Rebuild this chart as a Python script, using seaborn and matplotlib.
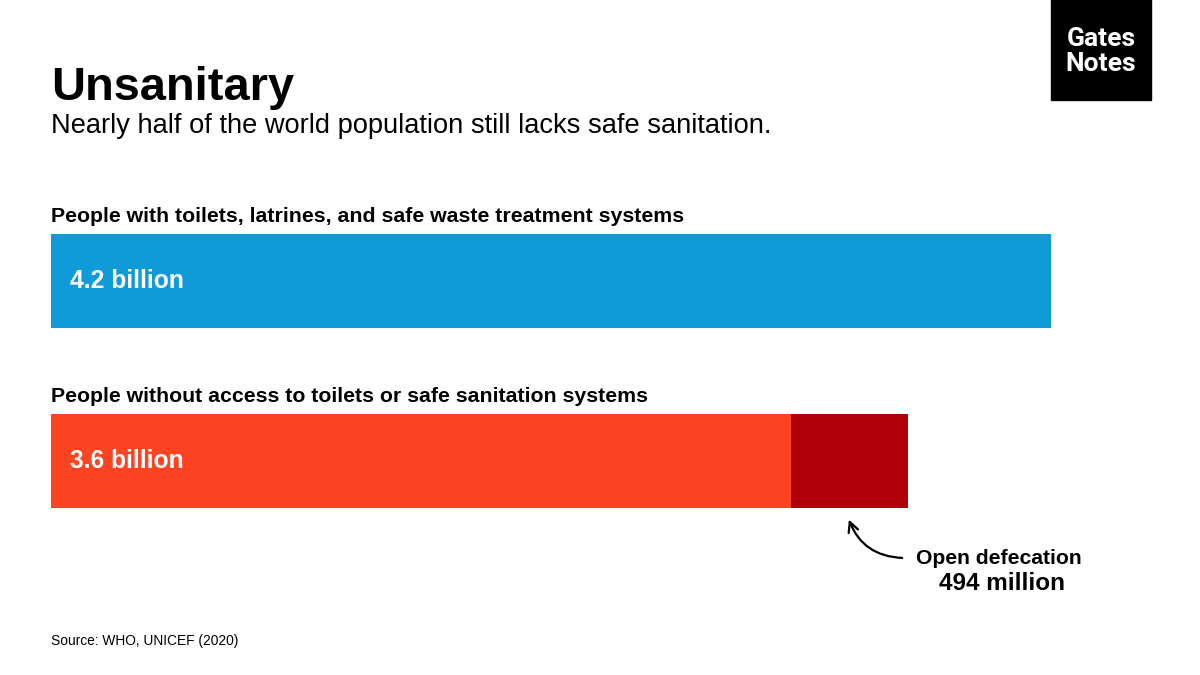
import matplotlib
matplotlib.use("Agg")
import matplotlib.pyplot as plt
import seaborn as sns
import pandas as pd

# --------------------------
# Data
# --------------------------
categories = ["People with toilets, latrines, and safe waste treatment systems",
              "People without access to toilets or safe sanitation systems"]
values = [4.2, 3.6]          # billions
value_labels = ["4.2 billion", "3.6 billion"]
bar_colors = ["#0F9AD8", "#FC4422"]
open_defecation = 0.494      # billions, part of the 3.6
open_label = ["Open defecation", "494 million"]

df = pd.DataFrame({"category": categories, "value": values})

# --------------------------
# Figure
# --------------------------
sns.set_style("white")
plt.rcParams["font.family"] = ["Liberation Sans", "DejaVu Sans"]
plt.rcParams["text.color"] = "black"

fig = plt.figure(figsize=(12, 6.75), dpi=100)
ax = fig.add_axes([51 / 1200, 1 - 508 / 675, 1000 / 1200, 274 / 675])

bar_h = 0.524
sns.barplot(data=df, x="value", y="category", hue="category", palette=bar_colors,
            orient="h", width=bar_h, legend=False, ax=ax, saturation=1, linewidth=0)
# dark segment at the end of the red bar
ax.barh(1, open_defecation, left=values[1] - open_defecation, height=bar_h,
        color="#B0000A", linewidth=0)

ax.set_xlim(0, 4.2)
ax.set_ylim(1 + bar_h / 2, -bar_h / 2)
ax.axis("off")

for i, (cat, lab) in enumerate(zip(categories, value_labels)):
    ax.text(0, i - bar_h / 2 - 0.045, cat, ha="left", va="bottom",
            fontsize=15.3, fontweight="bold", color="black")
    ax.text(0.08, i, lab, ha="left", va="center", fontsize=17.7,
            fontweight="bold", color="white")

# annotation arrow
ax.annotate("", xy=(3.347, 1 + bar_h / 2 + 0.05), xycoords="data",
            xytext=(905 / 1200, 1 - 558 / 675), textcoords="figure fraction",
            arrowprops=dict(arrowstyle="->", color="black", lw=1.6,
                            connectionstyle="arc3,rad=-0.35",
                            mutation_scale=18),
            annotation_clip=False)
fig.text(999 / 1200, 1 - 558 / 675, open_label[0], ha="center", va="center",
         fontsize=15.2, fontweight="bold")
fig.text(1002 / 1200, 1 - 583 / 675, open_label[1], ha="center", va="center",
         fontsize=17.5, fontweight="bold")

# titles
fig.text(51 / 1200, 1 - 100 / 675, "Unsanitary", ha="left", va="baseline",
         fontsize=33.8, fontweight="bold")
fig.text(51 / 1200, 1 - 133 / 675,
         "Nearly half of the world population still lacks safe sanitation.",
         ha="left", va="baseline", fontsize=19.6)
fig.text(51 / 1200, 1 - 645 / 675, "Source: WHO, UNICEF (2020)",
         ha="left", va="baseline", fontsize=9.9)

# logo
fig.patches.append(plt.Rectangle((1051 / 1200, 1 - 100 / 675), 100 / 1200, 100 / 675,
                                 transform=fig.transFigure, color="black"))
fig.text(1101 / 1200, 1 - 39 / 675, "Gates", ha="center", va="center",
         fontsize=19, fontweight="bold", color="white", family=["Roboto", "DejaVu Sans"])
fig.text(1101 / 1200, 1 - 64 / 675, "Notes", ha="center", va="center",
         fontsize=19, fontweight="bold", color="white", family=["Roboto", "DejaVu Sans"])

fig.savefig("out.png", dpi=100, facecolor="white")
